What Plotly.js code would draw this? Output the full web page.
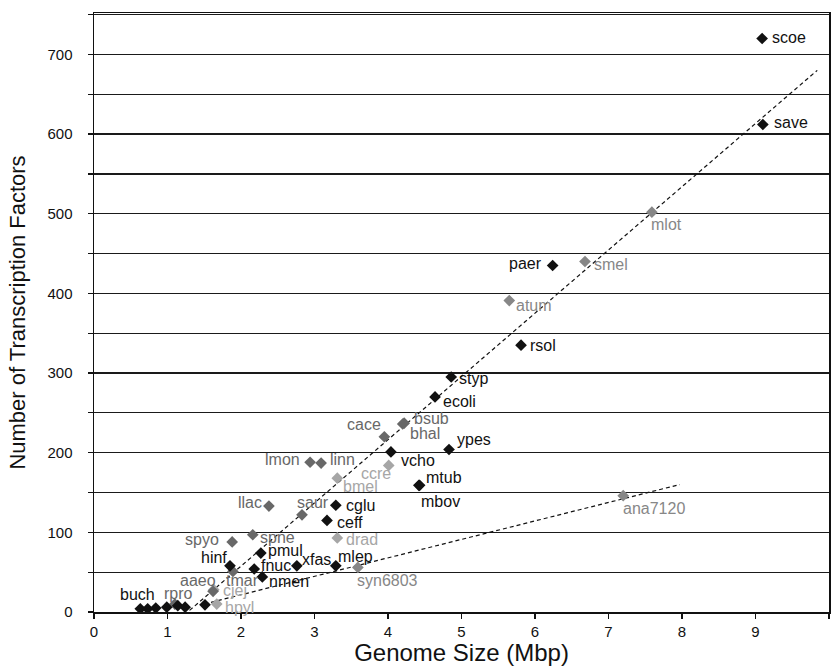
<!DOCTYPE html>
<html>
<head>
<meta charset="utf-8">
<script src="https://cdn.plot.ly/plotly-3.0.1.min.js"></script>
<style>
  html, body { margin: 0; padding: 0; background: #fff; }
  #chart { width: 837px; height: 666px; }
</style>
</head>
<body>
<div id="chart"></div>
<script>
// ---- Data ----
const species = [
  'scoe','save','mlot','smel','paer','atum','rsol','styp','ecoli','bsub','bhal','cace',
  'ypes','vcho','lmon','linn','ccre','bmel','mtub','mbov','llac','saur','cglu','ceff',
  'spyo','spne','drad','pmul','hinf','tmar','fnuc','xfas','mlep','syn6803','nmen',
  'aaeo','cjej','hpyl','','rpro','buch','','','','','','ana7120'
];
const genomeSize = [
  9.09, 9.10, 7.59, 6.68, 6.24, 5.65, 5.81, 4.86, 4.64, 4.22, 4.20, 3.95,
  4.83, 4.04, 2.94, 3.09, 4.01, 3.31, 4.42, 4.43, 2.38, 2.83, 3.29, 3.17,
  1.88, 2.16, 3.31, 2.27, 1.85, 1.89, 2.18, 2.76, 3.29, 3.59, 2.29,
  1.62, 1.63, 1.67, 1.51, 1.10, 0.63, 0.73, 0.84, 0.99, 1.14, 1.24, 7.20
];
const tfCount = [
  720, 612, 502, 440, 435, 391, 335, 295, 270, 237, 236, 220,
  204, 201, 188, 187, 184, 168, 159, 159, 133, 122, 134, 115,
  88, 97, 93, 74, 58, 51, 54, 58, 58, 56, 44,
  26, 28, 10, 9, 10, 4, 4, 5, 6, 8, 6, 146
];
const shade = [
  'black','black','mid','mid','black','mid','black','black','black','dark','dark','dark',
  'black','black','dark','dark','light','light','black','black','dark','dark','black','black',
  'dark','dark','light','black','black','dark','black','black','black','mid','black',
  'dark','light','light','black','dark','black','black','black','black','black','black','mid'
];
// trend lines (end points)
const trendSteepX = [1.30, 9.84];
const trendSteepY = [2, 680];
const trendFlatX = [1.50, 7.97];
const trendFlatY = [10, 160];
const xTickVals = [0,1,2,3,4,5,6,7,8,9,10];
const yTickVals = [0,100,200,300,400,500,600,700];

// ---- Styles / placements ----
const shadeColor = { black: '#111111', dark: '#686868', mid: '#878787', light: '#a6a6a6' };
const shadeOrder = ['light', 'mid', 'dark', 'black'];
// [xanchor, xshift, yshift]
const place = {
  scoe:['left',8,1], save:['left',9,2], mlot:['left',-3,-12], smel:['left',7,-3],
  paer:['right',-9,2], atum:['left',5,-5], rsol:['left',7,0], styp:['left',6,-1],
  ecoli:['left',6,-5], bsub:['left',8,5], bhal:['left',5,-9], cace:['right',-1,12],
  ypes:['left',6,10], vcho:['left',8,-9], lmon:['right',-8,3], linn:['left',7,4],
  ccre:['right',4,-8], bmel:['left',4,-8], mtub:['left',5,8], mbov:['left',-1,-16],
  llac:['right',-5,4], saur:['left',-7,12], cglu:['left',8,0], ceff:['left',8,-2],
  spyo:['right',-11,2], spne:['left',5,-3], drad:['left',7,-2], pmul:['left',5,3],
  hinf:['right',-1,8], tmar:['left',-9,-9], fnuc:['left',5,3], xfas:['left',3,6],
  mlep:['left',0,9], syn6803:['left',-3,-13], nmen:['left',5,-5],
  aaeo:['center',-15,11], cjej:['left',7,-1], hpyl:['left',6,-3],
  rpro:['center',4,11], buch:['center',-3,14], ana7120:['left',-2,-13]
};
const labelFont = 'Liberation Sans, Arial, Helvetica, sans-serif';

const traces = [];
traces.push({
  x: trendSteepX, y: trendSteepY, mode: 'lines', type: 'scatter',
  line: { color: '#111', width: 1.2, dash: '4px,3px' }, hoverinfo: 'skip', showlegend: false
});
traces.push({
  x: trendFlatX, y: trendFlatY, mode: 'lines', type: 'scatter',
  line: { color: '#111', width: 1.2, dash: '4px,3px' }, hoverinfo: 'skip', showlegend: false
});
shadeOrder.forEach(s => {
  const xs = [], ys = [], ts = [];
  genomeSize.forEach((g, i) => {
    if (shade[i] === s) { xs.push(g); ys.push(tfCount[i]); ts.push(species[i]); }
  });
  traces.push({
    x: xs, y: ys, text: ts, type: 'scatter', mode: 'markers',
    marker: { symbol: 'diamond', size: 9, color: shadeColor[s], line: { width: 0 } },
    showlegend: false, hovertemplate: '%{text}: %{x}, %{y}<extra></extra>'
  });
});

const annotations = [];
species.forEach((name, i) => {
  if (!name) return;
  const p = place[name] || ['left', 6, 0];
  annotations.push({
    x: genomeSize[i], y: tfCount[i], text: name, showarrow: false,
    xanchor: p[0], yanchor: 'middle', xshift: p[1], yshift: p[2],
    font: { family: labelFont, size: 16, color: shadeColor[shade[i]] }
  });
});

const layout = {
  width: 837, height: 666,
  margin: { l: 94, r: 8, t: 13, b: 54, pad: 0 },
  paper_bgcolor: '#ffffff', plot_bgcolor: '#ffffff',
  font: { family: labelFont, color: '#111' },
  showlegend: false,
  xaxis: {
    range: [0, 10], tickvals: xTickVals, ticktext: xTickVals.map(String),
    ticks: 'outside', ticklen: 5, tickwidth: 1.2, tickcolor: '#111',
    showline: true, linecolor: '#111', linewidth: 1.5, mirror: true,
    showgrid: false, zeroline: false,
    tickfont: { family: labelFont, size: 15, color: '#111' },
    title: { text: 'Genome Size (Mbp)', font: { family: labelFont, size: 24, color: '#111' }, standoff: 2 }
  },
  yaxis: {
    range: [0, 752], tickvals: yTickVals, ticktext: yTickVals.map(String),
    ticks: 'outside', ticklen: 5, tickwidth: 1.2, tickcolor: '#111',
    ticklabelstandoff: 12,
    showline: true, linecolor: '#111', linewidth: 1.5, mirror: true,
    showgrid: true, gridcolor: '#1a1a1a', gridwidth: 1.2, zeroline: false,
    minor: { dtick: 50, tick0: 0, showgrid: true, gridcolor: '#1a1a1a', gridwidth: 1.2,
             ticks: 'outside', ticklen: 5, tickcolor: '#111', tickwidth: 1.2 },
    tickfont: { family: labelFont, size: 15, color: '#111' },
    title: { text: 'Number of Transcription Factors', font: { family: labelFont, size: 22, color: '#111' }, standoff: 16 }
  },
  annotations: annotations
};

Plotly.newPlot('chart', traces, layout, { staticPlot: true, displayModeBar: false });
</script>
</body>
</html>
